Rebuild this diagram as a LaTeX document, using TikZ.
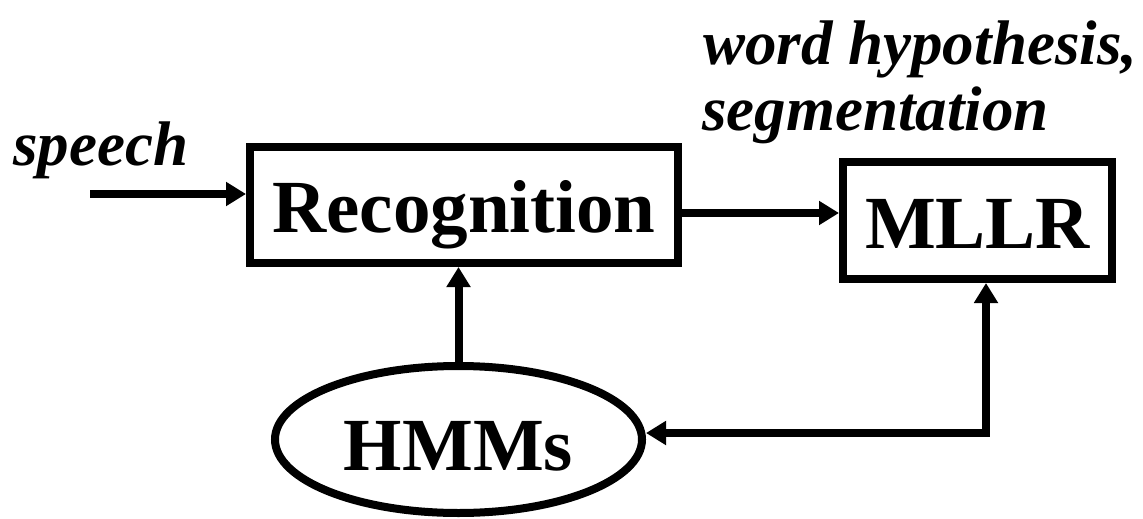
\documentclass[tikz,border=0pt]{standalone}
\usepackage{fontspec}
\setmainfont{Liberation Serif}
\usetikzlibrary{arrows.meta,shapes.geometric}
\begin{document}
\begin{tikzpicture}[x=1pt,y=-1pt,
  blk/.style={draw,line width=8pt,inner sep=0pt,font=\fontsize{75}{80}\selectfont\bfseries,text depth=0pt},
  lbl/.style={inner sep=0pt,anchor=base west,font=\fontsize{63}{70}\selectfont\bfseries\itshape},
  arr/.style={line width=8pt,line join=miter,-{Triangle[length=20pt,width=23pt]}},
  darr/.style={line width=8pt,line join=miter,{Triangle[length=20pt,width=23pt]}-{Triangle[length=20pt,width=23pt]}}]
\useasboundingbox (0,0) rectangle (1143,519);
\node[blk,minimum width=428pt,minimum height=116pt,text height=55pt] (rec) at (464,205) {Recognition};
\node[blk,minimum width=269pt,minimum height=117pt,text height=55pt] (ml) at (977.5,220.5) {MLLR};
\node[blk,ellipse,minimum width=367pt,minimum height=147pt,text height=61pt] (hmm) at (458.5,439.5) {HMMs};
\node[lbl] (sp) at (13,165) {speech};
\node[lbl] (wh) at (703,65) {word hypothesis,};
\node[lbl] (sg) at (702,130) {segmentation};
\coordinate (sin) at (90,194);
\coordinate (mid) at (760,213);
\coordinate (corner) at (986,433);
\draw[arr] (sin) -- (sin -| rec.west);
\draw[arr] (mid -| rec.east) -- (mid -| ml.west);
\draw[arr] (hmm.north) -- (hmm.north |- rec.south);
\draw[darr] (corner -| hmm.east) -- (corner) -- (corner |- ml.south);
\end{tikzpicture}
\end{document}
